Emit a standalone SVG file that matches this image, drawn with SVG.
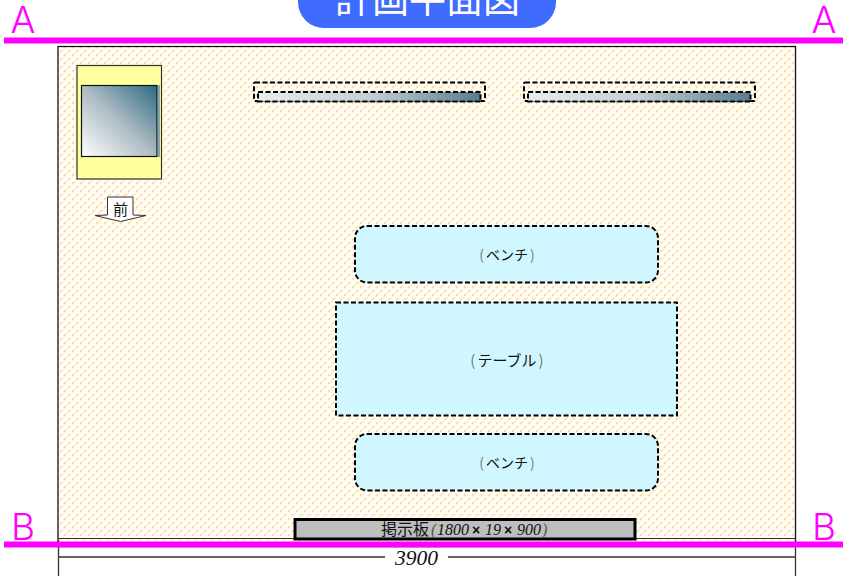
<svg xmlns="http://www.w3.org/2000/svg" width="843" height="576" viewBox="0 0 843 576">
<style>
.jp{font-family:"Noto Sans CJK JP","Liberation Sans",sans-serif;fill:#111}
.it{font-family:"Liberation Serif",serif;font-style:italic;fill:#111}
.x{font-family:"Liberation Sans",sans-serif;font-weight:bold;fill:#111}
.mark{font-family:"Inter","Liberation Sans",sans-serif;font-weight:300;font-size:37px;fill:#ff00ff;text-anchor:middle}
.dash{stroke:#000;stroke-width:2;stroke-dasharray:5 2.5;fill:#d0f7ff}
.grey{fill:#777}
.s1{fill:#ffdd9e}
.s2{fill:#ffeecf}
</style>
<defs>
<pattern id="hatch" width="8" height="8" patternUnits="userSpaceOnUse">
<rect width="8" height="8" fill="#fffef9"/>
<g shape-rendering="crispEdges">
<rect class="s1" x="0" y="6" width="2" height="2"/>
<rect class="s2" x="2" y="5" width="2" height="2"/>
<rect class="s1" x="4" y="2" width="2" height="2"/>
<rect class="s2" x="6" y="1" width="2" height="2"/>
<rect class="s2" x="3" y="3" width="2" height="2"/>
<rect class="s2" x="7" y="7" width="1" height="1"/>
<rect class="s2" x="0" y="0" width="1" height="1"/>
</g>
</pattern>
<linearGradient id="win" x1="0" y1="1" x2="1" y2="0">
<stop offset="0" stop-color="#ffffff"/><stop offset=".5" stop-color="#adbcc3"/><stop offset="1" stop-color="#2c6a86"/>
</linearGradient>
<linearGradient id="bar" x1="0" y1="0" x2="1" y2="0">
<stop offset="0" stop-color="#e8ecee"/><stop offset=".5" stop-color="#c3cfd5"/><stop offset="1" stop-color="#587d8e"/>
</linearGradient>
</defs>
<rect width="843" height="576" fill="#fff"/>
<g id="floor"><rect x="58" y="46.500" width="737.500" height="500" fill="url(#hatch)" stroke="#111" stroke-width="1.300"/></g>
<g id="connectors">
<path d="M58.500 540V576M795.500 540V576" stroke="#333" stroke-width="1.300" fill="none"/>
<path d="M58 557H385M448 557H795" stroke="#333" stroke-width="1.300" fill="none"/>
<path d="M58 538.500H795" stroke="#333" stroke-width="1" fill="none"/>
<path d="M4 40.500H843M4 544.500H843" stroke="#ff00ff" stroke-width="6" fill="none"/>
</g>
<g id="title">
<path d="M298 -20H556V2A26 26 0 0 1 530 28H324A26 26 0 0 1 298 2Z" fill="#3f6cff"/>
<text x="427.500" y="13" font-size="37" text-anchor="middle" style="font-family:'Noto Sans CJK JP',sans-serif;fill:#fff">計画平面図</text>
</g>
<g id="mark-a-left"><text class="mark" x="23" y="33">A</text></g>
<g id="mark-a-right"><text class="mark" x="824" y="33">A</text></g>
<g id="mark-b-left"><text class="mark" x="23" y="540">B</text></g>
<g id="mark-b-right"><text class="mark" x="824" y="540">B</text></g>
<g id="cabinet">
<rect x="77" y="65.500" width="84.500" height="113.500" fill="#ffff9c" stroke="#333" stroke-width="1.200"/>
<rect x="158" y="85" width="2" height="72" fill="#7fa8b8"/>
<rect x="81.500" y="85.500" width="75.500" height="71" fill="url(#win)" stroke="#111" stroke-width="1.200"/>
</g>
<g id="front-arrow">
<path d="M107.500 197H133V215L146 215.500L120.500 221.500L95 215.500L107.500 215Z" fill="#fff" stroke="#333" stroke-width="1"/>
<text class="jp" x="120.500" y="215" font-size="15" text-anchor="middle">前</text>
</g>
<g id="shelf-1">
<rect x="254" y="82.500" width="231" height="18.500" rx="1" fill="none" stroke="#000" stroke-width="2" stroke-dasharray="5 2.500"/>
<rect x="258" y="92" width="222.500" height="9.500" fill="url(#bar)" stroke="#000" stroke-width="2" stroke-dasharray="5 2.500"/>
</g>
<g id="shelf-2">
<rect x="524" y="82.500" width="231" height="18.500" rx="1" fill="none" stroke="#000" stroke-width="2" stroke-dasharray="5 2.500"/>
<rect x="528" y="92" width="222.500" height="9.500" fill="url(#bar)" stroke="#000" stroke-width="2" stroke-dasharray="5 2.500"/>
</g>
<g id="bench-1">
<rect class="dash" x="355" y="226" width="303" height="56.500" rx="12"/>
<text class="jp" x="507" y="260" font-size="14" text-anchor="middle"><tspan class="grey">(</tspan><tspan dx="2">ベンチ</tspan><tspan class="grey" dx="2">)</tspan></text>
</g>
<g id="table">
<rect class="dash" x="336" y="302.500" width="341" height="113"/>
<text class="jp" x="507" y="366" font-size="15" text-anchor="middle"><tspan class="grey">(</tspan><tspan dx="2">テーブル</tspan><tspan class="grey" dx="2">)</tspan></text>
</g>
<g id="bench-2">
<rect class="dash" x="355" y="434" width="303" height="56.500" rx="12"/>
<text class="jp" x="507" y="468" font-size="14" text-anchor="middle"><tspan class="grey">(</tspan><tspan dx="2">ベンチ</tspan><tspan class="grey" dx="2">)</tspan></text>
</g>
<g id="board">
<rect x="295" y="519.500" width="340" height="19.500" fill="#bebebe" stroke="#000" stroke-width="3"/>
<text x="381" y="535" font-size="16"><tspan class="jp">掲示板</tspan><tspan class="it" x="431" style="fill:#555">(</tspan><tspan class="it" x="437">1800</tspan><tspan class="x" x="472" font-size="14">×</tspan><tspan class="it" x="485">19</tspan><tspan class="x" x="504" font-size="14">×</tspan><tspan class="it" x="517">900</tspan><tspan class="it" x="542" style="fill:#555">)</tspan></text>
</g>
<g id="dimension"><text class="it" x="416.500" y="565" font-size="21.500" text-anchor="middle">3900</text></g>
</svg>
